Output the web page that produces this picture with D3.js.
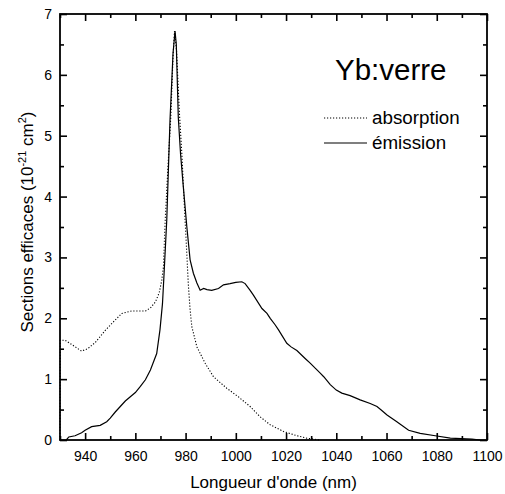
<!DOCTYPE html>
<html>
<head>
<meta charset="utf-8">
<script src="https://cdn.jsdelivr.net/npm/d3@7"></script>
<style>
  html, body { margin: 0; padding: 0; background: #fff; }
  svg { display: block; font-family: Arial, "Liberation Sans", Helvetica, sans-serif; }
</style>
</head>
<body>
<svg id="chart" width="505" height="494"></svg>
<script>
// ---- data ----
const absWavelength = [930, 930.1, 932, 935, 938.6, 941, 944, 948, 951, 954.6, 958.5, 961, 964, 966, 968, 969.5, 970.5, 971.2, 971.8, 973, 974.1, 975, 975.6, 976.4, 977.5, 978.5, 979.8, 981.1, 981.8, 982.5, 984.5, 987.8, 991.1, 996.4, 1001, 1005.7, 1009.7, 1013.7, 1019, 1024.3, 1028.3, 1033.6];
const absValue      = [0, 1.64, 1.64, 1.56, 1.46, 1.50, 1.60, 1.80, 1.93, 2.08, 2.12, 2.12, 2.12, 2.17, 2.27, 2.42, 2.62, 2.85, 3.55, 4.50, 5.30, 6.30, 6.72, 6.40, 5.40, 4.71, 3.61, 2.55, 2.14, 1.86, 1.53, 1.26, 1.04, 0.85, 0.71, 0.55, 0.38, 0.25, 0.14, 0.07, 0.03, 0];

const emiWavelength = [932.5, 933.5, 936, 938.6, 940, 942.6, 946, 948.6, 950, 952, 954, 956, 958, 960, 962, 964, 966, 968.5, 969.8, 970.8, 971.3, 972.5, 973.8, 975, 975.8, 976.3, 977.1, 978, 979.1, 980.5, 981.8, 983.1, 984.5, 985.8, 987.2, 988.5, 990.4, 993.1, 995.1, 997.7, 1000, 1002.4, 1003.7, 1005.7, 1007, 1010.4, 1012.4, 1013.7, 1015.7, 1017, 1020.3, 1022, 1024.3, 1027.6, 1029.7, 1031.6, 1033.6, 1035, 1037.6, 1040, 1042.2, 1045.5, 1049.5, 1053.5, 1056.2, 1058, 1060.2, 1064.1, 1068.8, 1073.4, 1079.4, 1085.4, 1094, 1097.3];
const emiValue      = [0, 0.05, 0.07, 0.12, 0.16, 0.22, 0.24, 0.30, 0.36, 0.46, 0.55, 0.64, 0.71, 0.78, 0.88, 0.99, 1.15, 1.42, 1.81, 2.24, 2.63, 3.61, 5.26, 6.35, 6.72, 6.50, 5.30, 4.70, 4.16, 3.50, 2.96, 2.74, 2.58, 2.46, 2.49, 2.47, 2.46, 2.49, 2.55, 2.57, 2.59, 2.60, 2.57, 2.46, 2.38, 2.16, 2.08, 2.00, 1.89, 1.81, 1.59, 1.53, 1.47, 1.34, 1.26, 1.18, 1.10, 1.04, 0.91, 0.82, 0.77, 0.73, 0.66, 0.60, 0.55, 0.49, 0.41, 0.30, 0.16, 0.11, 0.07, 0.03, 0.015, 0];

const xMajorTicks = [940, 960, 980, 1000, 1020, 1040, 1060, 1080, 1100];
const xMinorTicks = [930, 950, 970, 990, 1010, 1030, 1050, 1070, 1090];
const yMajorTicks = [0, 1, 2, 3, 4, 5, 6, 7];
const yMinorTicks = [0.5, 1.5, 2.5, 3.5, 4.5, 5.5, 6.5];

const seriesNames = ["absorption", "émission"];
const chartTitle = "Yb:verre";
const xTitle = "Longueur d'onde (nm)";

// ---- drawing ----
const svg = d3.select("#chart");
svg.append("rect").attr("width", 505).attr("height", 494).attr("fill", "#fff");

const mLeft = 60, mRight = 487, mTop = 14, mBottom = 440;
const x = d3.scaleLinear().domain([930, 1100]).range([mLeft, mRight]);
const y = d3.scaleLinear().domain([0, 7]).range([mBottom, mTop]);

const line = d3.line().x(d => x(d[0])).y(d => y(d[1]));

const absData = d3.zip(absWavelength, absValue);
const emiData = d3.zip(emiWavelength, emiValue);

svg.append("path").datum(absData)
  .attr("d", line).attr("fill", "none")
  .attr("stroke", "#000").attr("stroke-width", 1.1)
  .attr("stroke-dasharray", "1.2,1.8");

svg.append("path").datum(emiData)
  .attr("d", line).attr("fill", "none")
  .attr("stroke", "#000").attr("stroke-width", 1.2);

function styleAxis(g) {
  g.select(".domain").remove();
  g.selectAll(".tick line").attr("stroke", "#000").attr("stroke-width", 1.6);
  g.selectAll(".tick text").attr("fill", "#000").style("font-size", "14px");
}

// bottom
svg.append("g").attr("transform", `translate(0,${mBottom})`)
  .call(d3.axisBottom(x).tickValues(xMajorTicks).tickSize(-7).tickPadding(11).tickFormat(d3.format("d")))
  .call(styleAxis);
svg.append("g").attr("transform", `translate(0,${mBottom})`)
  .call(d3.axisBottom(x).tickValues(xMinorTicks).tickSize(-4).tickFormat(""))
  .call(styleAxis);
// top
svg.append("g").attr("transform", `translate(0,${mTop})`)
  .call(d3.axisTop(x).tickValues(xMajorTicks).tickSize(-7).tickFormat(""))
  .call(styleAxis);
svg.append("g").attr("transform", `translate(0,${mTop})`)
  .call(d3.axisTop(x).tickValues(xMinorTicks).tickSize(-4).tickFormat(""))
  .call(styleAxis);
// left
svg.append("g").attr("transform", `translate(${mLeft},0)`)
  .call(d3.axisLeft(y).tickValues(yMajorTicks).tickSize(-7).tickPadding(8).tickFormat(d3.format("d")))
  .call(styleAxis);
svg.append("g").attr("transform", `translate(${mLeft},0)`)
  .call(d3.axisLeft(y).tickValues(yMinorTicks).tickSize(-4).tickFormat(""))
  .call(styleAxis);
// right
svg.append("g").attr("transform", `translate(${mRight},0)`)
  .call(d3.axisRight(y).tickValues(yMajorTicks).tickSize(-7).tickFormat(""))
  .call(styleAxis);
svg.append("g").attr("transform", `translate(${mRight},0)`)
  .call(d3.axisRight(y).tickValues(yMinorTicks).tickSize(-4).tickFormat(""))
  .call(styleAxis);

// frame
svg.append("rect")
  .attr("x", mLeft).attr("y", mTop)
  .attr("width", mRight - mLeft).attr("height", mBottom - mTop)
  .attr("fill", "none").attr("stroke", "#000").attr("stroke-width", 1.8);

// axis titles
svg.append("text")
  .attr("x", (mLeft + mRight) / 2).attr("y", 488)
  .attr("text-anchor", "middle").style("font-size", "17px")
  .text(xTitle);

const yt = svg.append("text")
  .attr("transform", `translate(33,${(mTop + mBottom) / 2 - 5}) rotate(-90)`)
  .attr("text-anchor", "middle").style("font-size", "17px");
yt.append("tspan").text("Sections efficaces (10");
yt.append("tspan").attr("dy", -7).style("font-size", "11px").text("-21");
yt.append("tspan").attr("dy", 7).text(" cm");
yt.append("tspan").attr("dy", -7).style("font-size", "11px").text("2");
yt.append("tspan").attr("dy", 7).text(")");

// title
svg.append("text")
  .attr("x", 335).attr("y", 80)
  .style("font-size", "29.5px")
  .text(chartTitle);

// legend
const legendY = [118, 143];
const legendDash = ["1.2,1.8", null];
seriesNames.forEach((name, i) => {
  svg.append("line")
    .attr("x1", 324).attr("x2", 367)
    .attr("y1", legendY[i]).attr("y2", legendY[i])
    .attr("stroke", "#000").attr("stroke-width", 1.1)
    .attr("stroke-dasharray", legendDash[i]);
  svg.append("text")
    .attr("x", 372).attr("y", legendY[i] + 6)
    .style("font-size", "18.8px")
    .text(name);
});
</script>
</body>
</html>
